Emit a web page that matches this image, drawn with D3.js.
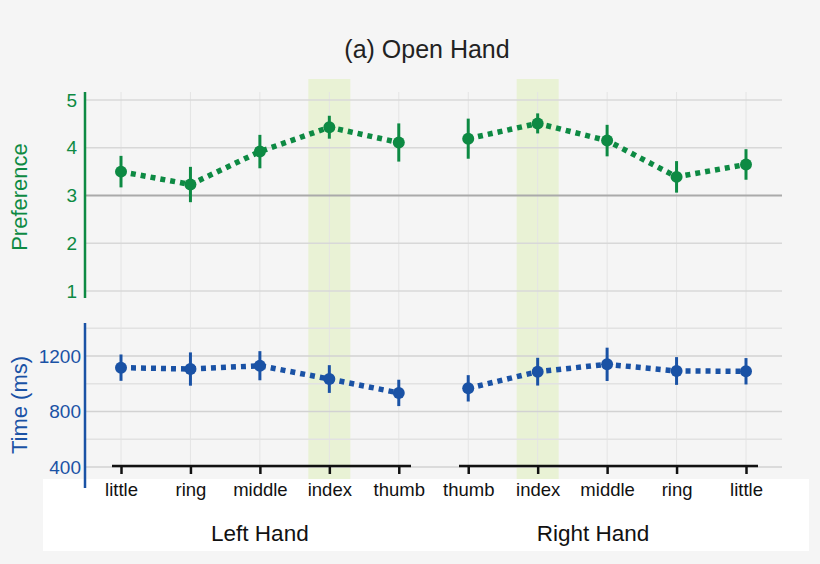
<!DOCTYPE html>
<html>
<head>
<meta charset="utf-8">
<script src="https://cdn.jsdelivr.net/npm/d3@7"></script>
<style>
  body { margin: 0; background: #f5f5f5; font-family: "Liberation Sans", Arial, sans-serif; }
</style>
</head>
<body>
<div id="chart"></div>
<script>
// data
var leftFingers = ["little", "ring", "middle", "index", "thumb"];
var rightFingers = ["thumb", "index", "middle", "ring", "little"];
var groupLabels = ["Left Hand", "Right Hand"];

var prefLeft = [3.50, 3.23, 3.92, 4.43, 4.11];
var prefLeftErr = [0.33, 0.37, 0.35, 0.24, 0.40];
var prefRight = [4.19, 4.51, 4.15, 3.39, 3.65];
var prefRightErr = [0.42, 0.21, 0.33, 0.33, 0.32];

var timeLeft = [1116, 1106, 1130, 1034, 934];
var timeLeftErr = [95, 120, 105, 100, 95];
var timeRight = [967, 1087, 1140, 1092, 1090];
var timeRightErr = [95, 100, 120, 100, 95];

var prefTicks = [1, 2, 3, 4, 5];
var timeTicks = [400, 800, 1200];
var timeGrid = [400, 600, 800, 1000, 1200, 1400];

var W = 820, H = 564;
var green = "#0d8a43", blue = "#1a52a5";
var font = "Liberation Sans, Arial, sans-serif";

var svg = d3.select("#chart").append("svg")
    .attr("width", W).attr("height", H);

svg.append("rect").attr("width", W).attr("height", H).attr("fill", "#f5f5f5");

// one slot per finger, left hand then right hand
var slots = leftFingers.map(function (d, i) { return "L" + i; })
    .concat(rightFingers.map(function (d, i) { return "R" + i; }));
var x = d3.scalePoint().domain(slots).range([121, 746]);

var yPref = d3.scaleLinear().domain([1, 5]).range([291, 100]);
var yTime = d3.scaleLinear().domain([400, 1200]).range([467, 356]);

var gridLeft = 86, gridRight = 782;

// white box behind the category labels
svg.append("rect")
    .attr("x", 43).attr("y", 479).attr("width", 766).attr("height", 72)
    .attr("fill", "#ffffff");

// highlight for index fingers
["L3", "R1"].forEach(function (s) {
    svg.append("rect")
        .attr("x", x(s) - 21).attr("y", 79)
        .attr("width", 42).attr("height", 400)
        .attr("fill", "#e8f2d2").attr("opacity", 0.9);
});

// vertical grid lines
svg.append("g").selectAll("line").data(slots).enter().append("line")
    .attr("x1", function (d) { return x(d); }).attr("x2", function (d) { return x(d); })
    .attr("y1", 92).attr("y2", 466)
    .attr("stroke", "#e4e4e4").attr("stroke-width", 1);

// preference grid
svg.append("g").selectAll("line").data(prefTicks).enter().append("line")
    .attr("x1", gridLeft).attr("x2", gridRight)
    .attr("y1", function (d) { return yPref(d); }).attr("y2", function (d) { return yPref(d); })
    .attr("stroke", function (d) { return d === 3 ? "#aaaaaa" : "#d8d8d8"; })
    .attr("stroke-width", function (d) { return d === 3 ? 2 : 1.3; });

// time grid
svg.append("g").selectAll("line").data(timeGrid).enter().append("line")
    .attr("x1", gridLeft).attr("x2", gridRight)
    .attr("y1", function (d) { return yTime(d); }).attr("y2", function (d) { return yTime(d); })
    .attr("stroke", function (d) { return d % 400 === 0 ? "#d2d2d2" : "#e2e2e2"; })
    .attr("stroke-width", 1.3);

// y axes
var prefAxis = svg.append("g")
    .attr("transform", "translate(85,0)")
    .call(d3.axisLeft(yPref).tickValues(prefTicks).tickFormat(d3.format("d"))
        .tickSize(0).tickPadding(8));
prefAxis.select(".domain").remove();
prefAxis.selectAll("text").attr("fill", green).attr("font-size", 19).attr("font-family", font);
svg.append("line").attr("x1", 85).attr("x2", 85).attr("y1", 92).attr("y2", 298)
    .attr("stroke", green).attr("stroke-width", 2.5);

var timeAxis = svg.append("g")
    .attr("transform", "translate(85,0)")
    .call(d3.axisLeft(yTime).tickValues(timeTicks).tickFormat(d3.format("d"))
        .tickSize(0).tickPadding(4));
timeAxis.select(".domain").remove();
timeAxis.selectAll("text").attr("fill", blue).attr("font-size", 19).attr("font-family", font);
svg.append("line").attr("x1", 85).attr("x2", 85).attr("y1", 323).attr("y2", 488)
    .attr("stroke", blue).attr("stroke-width", 2.5);

// axis titles
svg.append("text").attr("transform", "translate(27,197) rotate(-90)")
    .attr("text-anchor", "middle").attr("fill", green).attr("font-size", 22)
    .attr("font-family", font).text("Preference");
svg.append("text").attr("transform", "translate(27,405) rotate(-90)")
    .attr("text-anchor", "middle").attr("fill", blue).attr("font-size", 22)
    .attr("font-family", font).text("Time (ms)");

// title
svg.append("text").attr("x", 427).attr("y", 58)
    .attr("text-anchor", "middle").attr("fill", "#222").attr("font-size", 25)
    .attr("font-family", font).text("(a) Open Hand");

// bottom category axes, one per hand
function handAxis(prefix, names, x0, x1) {
    var sub = d3.scalePoint().domain(names.map(function (d, i) { return prefix + i; }))
        .range([x(prefix + "0"), x(prefix + "4")]);
    var g = svg.append("g").attr("transform", "translate(0,466)")
        .call(d3.axisBottom(sub).tickSize(8).tickPadding(9)
            .tickFormat(function (d, i) { return names[i]; }));
    g.select(".domain").remove();
    g.selectAll(".tick line").attr("stroke", "#111").attr("stroke-width", 2.5);
    g.selectAll("text").attr("fill", "#111").attr("font-size", 18.5).attr("font-family", font);
    g.append("line").attr("x1", x0).attr("x2", x1).attr("y1", 0).attr("y2", 0)
        .attr("stroke", "#111").attr("stroke-width", 2.5);
}
handAxis("L", leftFingers, 112, 411);
handAxis("R", rightFingers, 459, 758);

svg.append("text").attr("x", x("L2")).attr("y", 541)
    .attr("text-anchor", "middle").attr("fill", "#111").attr("font-size", 22.5)
    .attr("font-family", font).text(groupLabels[0]);
svg.append("text").attr("x", x("R2") - 14).attr("y", 541)
    .attr("text-anchor", "middle").attr("fill", "#111").attr("font-size", 22.5)
    .attr("font-family", font).text(groupLabels[1]);

// series drawing
function drawSeries(prefix, vals, errs, y, color) {
    var pts = vals.map(function (v, i) { return { s: prefix + i, v: v, e: errs[i] }; });
    var g = svg.append("g");
    g.append("path").datum(pts)
        .attr("fill", "none").attr("stroke", color).attr("stroke-width", 5.5)
        .attr("stroke-dasharray", "5,5")
        .attr("d", d3.line()
            .x(function (d) { return x(d.s); })
            .y(function (d) { return y(d.v); }));
    g.selectAll(".err").data(pts).enter().append("line")
        .attr("x1", function (d) { return x(d.s); }).attr("x2", function (d) { return x(d.s); })
        .attr("y1", function (d) { return y(d.v - d.e); })
        .attr("y2", function (d) { return y(d.v + d.e); })
        .attr("stroke", color).attr("stroke-width", 3);
    g.selectAll("circle").data(pts).enter().append("circle")
        .attr("cx", function (d) { return x(d.s); })
        .attr("cy", function (d) { return y(d.v); })
        .attr("r", 6).attr("fill", color);
}
drawSeries("L", prefLeft, prefLeftErr, yPref, green);
drawSeries("R", prefRight, prefRightErr, yPref, green);
drawSeries("L", timeLeft, timeLeftErr, yTime, blue);
drawSeries("R", timeRight, timeRightErr, yTime, blue);
</script>
</body>
</html>
